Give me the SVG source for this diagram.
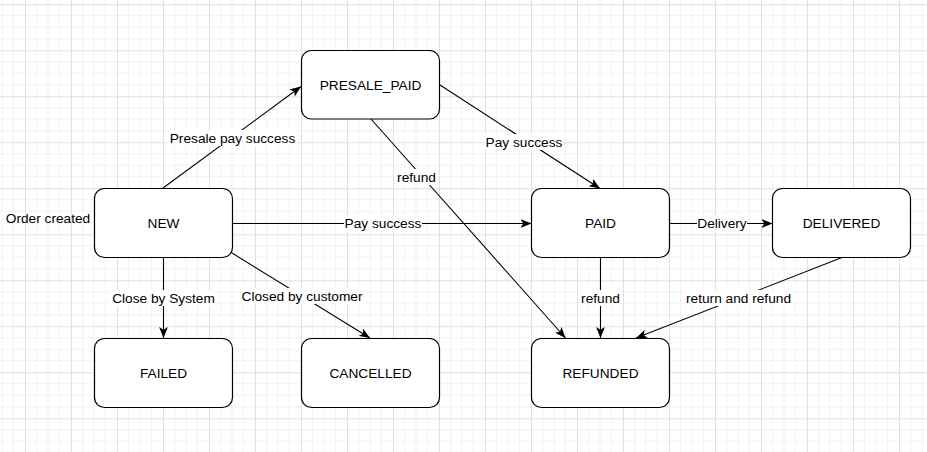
<svg xmlns="http://www.w3.org/2000/svg" width="927" height="452" viewBox="0 0 927 452">
<style>
.node rect{fill:#fff;stroke:#000;stroke-width:1.2}
text{font-family:"Liberation Sans",Arial,Helvetica,sans-serif;font-size:13.7px;fill:#000;text-anchor:middle;dominant-baseline:central}
.edge line{stroke:#000;stroke-width:1.1;marker-end:url(#arr)}
.lbl{fill:#fff}
</style>
<defs>
<pattern id="grid" patternUnits="userSpaceOnUse" x="25" y="4.3" width="46" height="46">
<path d="M11.5 0V46M23 0V46M34.5 0V46M0 11.5H46M0 23H46M0 34.5H46" stroke="#f1f1f1" stroke-width="1" fill="none"/>
<path d="M0.5 0V46M0 0.5H46" stroke="#e0e0e0" stroke-width="1" fill="none"/>
</pattern>
<marker id="arr" viewBox="0 0 10 8" markerWidth="11" markerHeight="8.8" refX="10" refY="4" orient="auto" markerUnits="userSpaceOnUse">
<path d="M0,0 L10,4 L0,8 L2.5,4 Z" fill="#000"/>
</marker>
</defs>
<rect width="927" height="452" fill="#fff"/>
<rect width="927" height="452" fill="url(#grid)"/>

<g id="edges" class="edge">
<line x1="163" y1="188" x2="301" y2="86.5"/>
<line x1="232" y1="223.5" x2="531.5" y2="223.5"/>
<line x1="440" y1="85" x2="600" y2="188.5"/>
<line x1="371" y1="119" x2="565.5" y2="338"/>
<line x1="669.5" y1="223.5" x2="772.5" y2="223.5"/>
<line x1="600.5" y1="257.5" x2="600.5" y2="338"/>
<line x1="842" y1="257.5" x2="636" y2="338"/>
<line x1="163.5" y1="257.5" x2="163.5" y2="338"/>
<line x1="232" y1="253" x2="370" y2="338"/>
</g>

<g id="edge-labels">
<rect class="lbl" x="168" y="130" width="129" height="16"/><text x="232.5" y="138">Presale pay success</text>
<rect class="lbl" x="344" y="215.5" width="78" height="16"/><text x="383" y="223">Pay success</text>
<rect class="lbl" x="485" y="134" width="78" height="16"/><text x="524" y="142">Pay success</text>
<rect class="lbl" x="396" y="169" width="41" height="16"/><text x="416.5" y="177">refund</text>
<rect class="lbl" x="697" y="215.5" width="50" height="16"/><text x="722" y="223">Delivery</text>
<rect class="lbl" x="580" y="290" width="41" height="16"/><text x="600.5" y="298">refund</text>
<rect class="lbl" x="685" y="290" width="107" height="16"/><text x="738.5" y="298">return and refund</text>
<rect class="lbl" x="111" y="290" width="105" height="16"/><text x="163.5" y="298">Close by System</text>
<rect class="lbl" x="241" y="288" width="123" height="16"/><text x="302" y="296">Closed by customer</text>
</g>

<text x="48" y="218">Order created</text>

<g id="n-presale" class="node"><rect x="301.5" y="50.5" width="138" height="68.5" rx="10"/><text x="370.5" y="85">PRESALE_PAID</text></g>
<g id="n-new" class="node"><rect x="94.5" y="188.5" width="138" height="69" rx="10"/><text x="163.5" y="223">NEW</text></g>
<g id="n-paid" class="node"><rect x="531.5" y="188.5" width="138" height="69" rx="10"/><text x="600.5" y="223">PAID</text></g>
<g id="n-delivered" class="node"><rect x="772.5" y="188.5" width="138" height="69" rx="10"/><text x="841.5" y="223">DELIVERED</text></g>
<g id="n-failed" class="node"><rect x="94.5" y="338.5" width="138" height="69" rx="10"/><text x="163.5" y="373">FAILED</text></g>
<g id="n-cancelled" class="node"><rect x="301.5" y="338.5" width="138" height="69" rx="10"/><text x="370.5" y="373">CANCELLED</text></g>
<g id="n-refunded" class="node"><rect x="531.5" y="338.5" width="138" height="69" rx="10"/><text x="600.5" y="373">REFUNDED</text></g>
</svg>
